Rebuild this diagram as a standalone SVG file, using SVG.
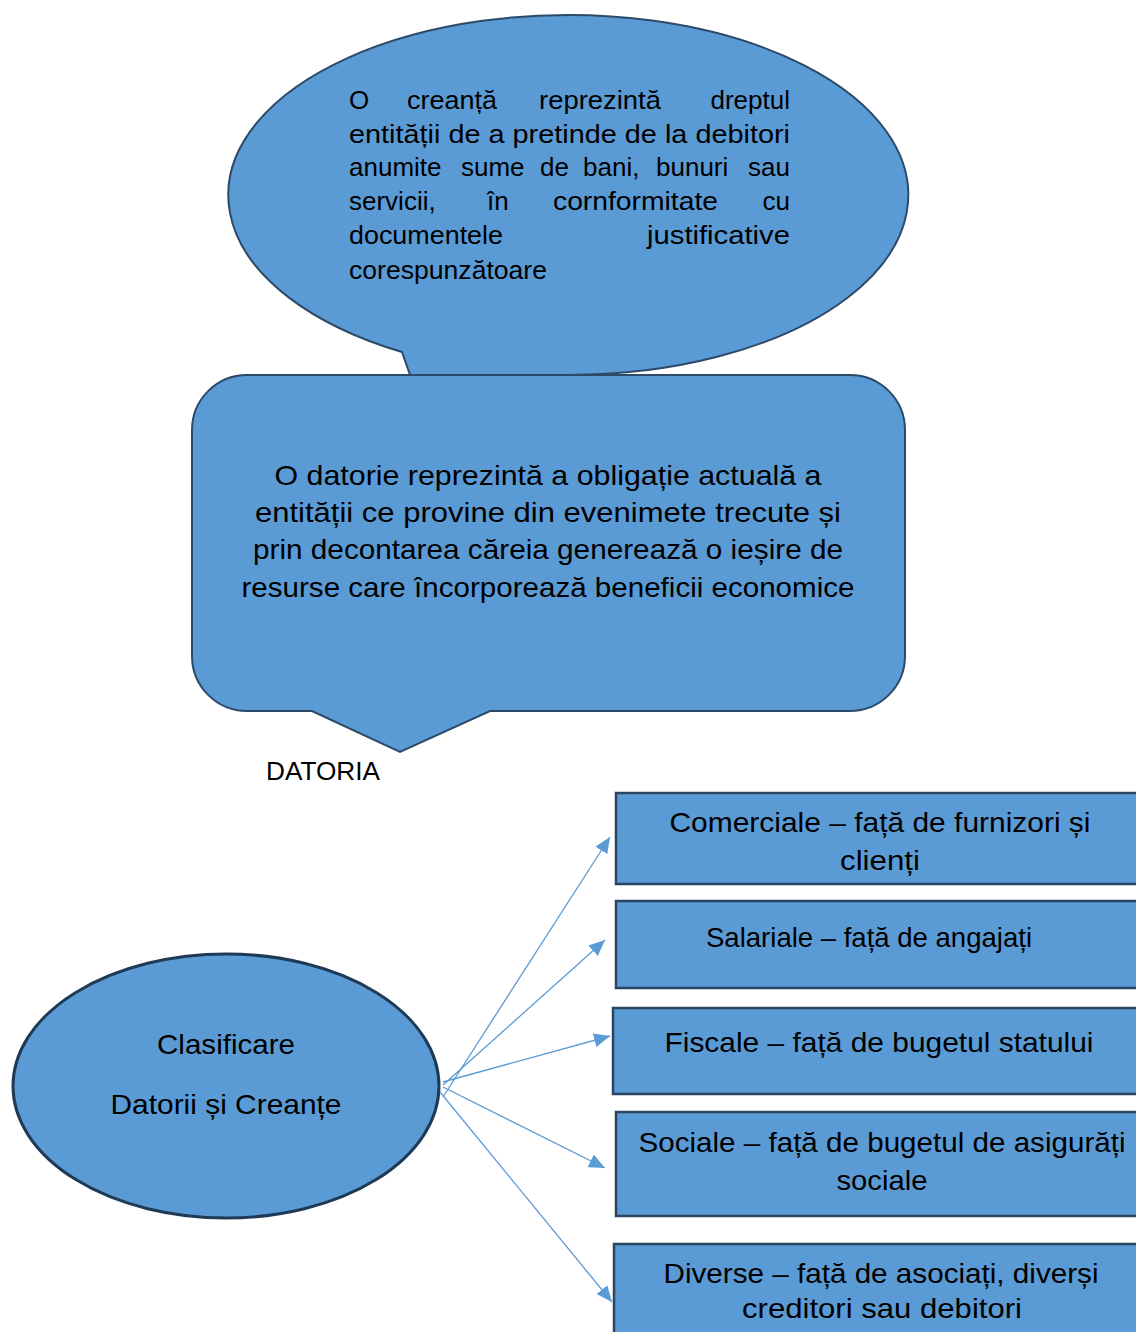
<svg xmlns="http://www.w3.org/2000/svg" width="1136" height="1332" viewBox="0 0 1136 1332">
<style>
.shape{fill:#5b9bd5;stroke:#2c4a68;stroke-width:2}
.box{fill:#5b9bd5;stroke:#2a4562;stroke-width:2.5}
.t{font-family:"Liberation Sans",Arial,sans-serif;fill:#000}
.p{font-size:26px}
.m{font-size:28px;text-anchor:middle}
.e{text-anchor:end}
.conn{stroke:#5b9bd5;stroke-width:1.3;fill:none;marker-end:url(#ah)}
</style>
<defs>
<marker id="ah" markerUnits="userSpaceOnUse" markerWidth="18" markerHeight="14" refX="16" refY="7" orient="auto">
<path d="M0,0 L16,7 L0,14 Z" fill="#5b9bd5"/>
</marker>
</defs>
<rect width="1136" height="1332" fill="#fff"/>

<g id="creanta">
<path class="shape" d="M402,352 A340,180 0 1 1 569,375 L430,432 Z"/>
<text class="t p" x="349" y="109">O</text>
<text class="t p" x="407" y="109" textLength="90" lengthAdjust="spacingAndGlyphs">creanță</text>
<text class="t p" x="539" y="109" textLength="122" lengthAdjust="spacingAndGlyphs">reprezintă</text>
<text class="t p e" x="790" y="109">dreptul</text>
<text class="t p" x="349" y="143" textLength="441" lengthAdjust="spacingAndGlyphs">entității de a pretinde de la debitori</text>
<text class="t p" x="349" y="176">anumite</text>
<text class="t p" x="461" y="176">sume</text>
<text class="t p" x="540" y="176">de</text>
<text class="t p" x="583" y="176">bani,</text>
<text class="t p" x="656" y="176">bunuri</text>
<text class="t p e" x="790" y="176">sau</text>
<text class="t p" x="349" y="210">servicii,</text>
<text class="t p" x="487" y="210">în</text>
<text class="t p" x="553" y="210" textLength="165" lengthAdjust="spacingAndGlyphs">cornformitate</text>
<text class="t p e" x="790" y="210">cu</text>
<text class="t p" x="349" y="244" textLength="154" lengthAdjust="spacingAndGlyphs">documentele</text>
<text class="t p" x="647" y="244" textLength="143" lengthAdjust="spacingAndGlyphs">justificative</text>
<text class="t p" x="349" y="279" textLength="198" lengthAdjust="spacingAndGlyphs">corespunzătoare</text>
</g>

<g id="datoria">
<path class="shape" d="M247,375 H850 A55,55 0 0 1 905,430 V656 A55,55 0 0 1 850,711 H490 L400,752 L312,711 H247 A55,55 0 0 1 192,656 V430 A55,55 0 0 1 247,375 Z"/>
<text class="t m" x="548" y="485" textLength="547" lengthAdjust="spacingAndGlyphs">O datorie reprezintă a obligație actuală a</text>
<text class="t m" x="548" y="522" textLength="586" lengthAdjust="spacingAndGlyphs">entității ce provine din evenimete trecute și</text>
<text class="t m" x="548" y="559" textLength="590" lengthAdjust="spacingAndGlyphs">prin decontarea căreia generează o ieșire de</text>
<text class="t m" x="548" y="597" textLength="613" lengthAdjust="spacingAndGlyphs">resurse care încorporează beneficii economice</text>
</g>

<g id="label-datoria">
<text class="t" x="266" y="780" font-size="25" textLength="114" lengthAdjust="spacingAndGlyphs">DATORIA</text>
</g>

<g id="clasificare">
<ellipse cx="226" cy="1086" rx="213" ry="132" fill="#5b9bd5" stroke="#1f3a56" stroke-width="3"/>
<text class="t m" x="226" y="1054" textLength="138" lengthAdjust="spacingAndGlyphs">Clasificare</text>
<text class="t m" x="226" y="1114" textLength="231" lengthAdjust="spacingAndGlyphs">Datorii și Creanțe</text>
</g>

<g id="comerciale">
<rect class="box" x="616" y="793" width="530" height="91"/>
<text class="t m" x="880" y="832" textLength="421" lengthAdjust="spacingAndGlyphs">Comerciale – față de furnizori și</text>
<text class="t m" x="880" y="870" textLength="80" lengthAdjust="spacingAndGlyphs">clienți</text>
</g>
<g id="salariale">
<rect class="box" x="616" y="901" width="530" height="87"/>
<text class="t m" x="869" y="947" textLength="326" lengthAdjust="spacingAndGlyphs">Salariale – față de angajați</text>
</g>
<g id="fiscale">
<rect class="box" x="613" y="1008" width="533" height="86"/>
<text class="t m" x="879" y="1052" textLength="429" lengthAdjust="spacingAndGlyphs">Fiscale – față de bugetul statului</text>
</g>
<g id="sociale">
<rect class="box" x="616" y="1112" width="530" height="104"/>
<text class="t m" x="882" y="1152" textLength="487" lengthAdjust="spacingAndGlyphs">Sociale – față de bugetul de asigurăți</text>
<text class="t m" x="882" y="1190" textLength="91" lengthAdjust="spacingAndGlyphs">sociale</text>
</g>
<g id="diverse">
<rect class="box" x="614" y="1244" width="532" height="100"/>
<text class="t m" x="881" y="1283" textLength="435" lengthAdjust="spacingAndGlyphs">Diverse – față de asociați, diverși</text>
<text class="t m" x="882" y="1318" textLength="280" lengthAdjust="spacingAndGlyphs">creditori sau debitori</text>
</g>

<g id="connectors">
<line class="conn" x1="443" y1="1097" x2="610" y2="837"/>
<line class="conn" x1="443" y1="1085" x2="605" y2="940"/>
<line class="conn" x1="443" y1="1082" x2="610" y2="1036"/>
<line class="conn" x1="443" y1="1087" x2="605" y2="1168"/>
<line class="conn" x1="440" y1="1092" x2="612" y2="1302"/>
</g>
</svg>
